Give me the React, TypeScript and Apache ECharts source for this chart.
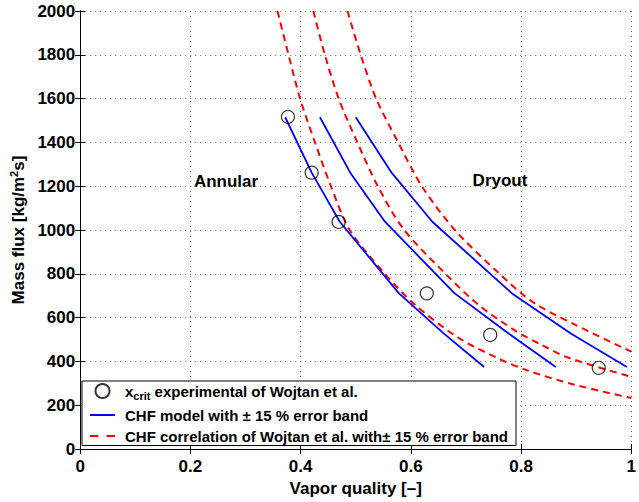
import React, { useEffect, useRef } from "react";
import * as echarts from "echarts";

// Experimental critical vapor quality (circles)
const xCrit = [0.377, 0.42, 0.469, 0.629, 0.744, 0.941];
const gCrit = [1517, 1262, 1037, 711, 521, 371];

// CHF model (blue) with +/-15 % band
const modelG = [1515, 1262, 1038, 712, 527, 375];
const modelLowX = [0.372, 0.42, 0.471, 0.578, 0.66, 0.733];
const modelMidX = [0.435, 0.49, 0.553, 0.679, 0.778, 0.863];
const modelHighX = [0.5, 0.565, 0.639, 0.783, 0.891, 0.992];

// CHF correlation of Wojtan et al. (red dashed) with +/-15 % band
const corrLowX = [0.358, 0.378, 0.399, 0.426, 0.455, 0.489, 0.553, 0.607, 0.684, 0.755, 0.814, 0.897, 1.0];
const corrLowG = [2000, 1800, 1600, 1400, 1200, 1000, 800, 660, 512, 418, 357, 294, 233];
const corrMidX = [0.423, 0.444, 0.469, 0.503, 0.54, 0.588, 0.663, 0.722, 0.79, 0.838, 0.885, 1.0];
const corrMidG = [2000, 1800, 1600, 1400, 1200, 1000, 800, 660, 540, 475, 418, 330];
const corrHighX = [0.485, 0.509, 0.537, 0.577, 0.62, 0.68, 0.761, 0.822, 0.897, 1.0];
const corrHighG = [2000, 1800, 1600, 1400, 1200, 1000, 800, 670, 569, 445];

const NAME_EXP = "xcrit experimental of Wojtan et al.";
const NAME_MODEL = "CHF model with \u00b1 15 % error band";
const NAME_CORR = "CHF correlation of Wojtan et al. with\u00b1 15 % error band";

const FONT = "'Liberation Sans', Arial, Helvetica, sans-serif";

const zip = (xs: number[], ys: number[]) => xs.map((x, i) => [x, ys[i]]);

export default function App() {
  const ref = useRef<HTMLDivElement>(null);
  useEffect(() => {
    if (!ref.current) return;
    const chart = echarts.init(ref.current, undefined, { renderer: "svg" });
    const grid = { left: 75, right: 1, top: 11, bottom: 50 };
    const axisLine = { show: true, lineStyle: { color: "#000", width: 1 } };
    const axisTick = { show: true, inside: true, length: 5, lineStyle: { color: "#000", width: 1 } };
    const splitLine = { show: true, lineStyle: { color: "#666", width: 1, type: [1, 4] } };
    const labelStyle = { color: "#000", fontSize: 17, fontWeight: "bold", fontFamily: FONT };

    const modelLine = (xs: number[]) => ({
      type: "line",
      name: NAME_MODEL,
      data: zip(xs, modelG),
      symbol: "none",
      lineStyle: { color: "#0000ff", width: 1.8 },
      itemStyle: { color: "#0000ff" },
      z: 3,
    });
    const corrLine = (xs: number[], gs: number[]) => ({
      type: "line",
      name: NAME_CORR,
      data: zip(xs, gs),
      symbol: "none",
      smooth: 0.3,
      lineStyle: { color: "#ff0000", width: 2, type: [7, 5] },
      itemStyle: { color: "#ff0000" },
      z: 2,
    });

    chart.setOption({
      animation: false,
      backgroundColor: "#fff",
      textStyle: { fontFamily: FONT },
      grid,
      xAxis: [
        {
          type: "value",
          min: 0,
          max: 1,
          interval: 0.2,
          position: "bottom",
          axisLine,
          axisTick,
          splitLine,
          axisLabel: { ...labelStyle, margin: 9, formatter: (v: number) => String(v) },
          name: "Vapor quality [\u2013]",
          nameLocation: "middle",
          nameGap: 25,
          nameTextStyle: { ...labelStyle },
        },
        {
          type: "value",
          min: 0,
          max: 1,
          interval: 0.2,
          position: "top",
          axisLine,
          axisTick,
          splitLine: { show: false },
          axisLabel: { show: false },
        },
      ],
      yAxis: [
        {
          type: "value",
          min: 0,
          max: 2000,
          interval: 200,
          position: "left",
          axisLine,
          axisTick,
          splitLine,
          axisLabel: { ...labelStyle, margin: 5, formatter: (v: number) => String(v) },
          name: "{a|Mass flux [kg/m}{sup|2}{a|s]}",
          nameLocation: "middle",
          nameGap: 52,
          nameRotate: 90,
          nameTextStyle: {
            rich: {
              a: { ...labelStyle },
              sup: { color: "#000", fontSize: 11, fontWeight: "bold", fontFamily: FONT, padding: [0, 0, 9, 0] },
            },
          },
        },
        {
          type: "value",
          min: 0,
          max: 2000,
          interval: 200,
          position: "right",
          axisLine,
          axisTick,
          splitLine: { show: false },
          axisLabel: { show: false },
        },
      ],
      legend: {
        orient: "vertical",
        left: 82,
        top: 381,
        padding: [2, 8, 2, 8],
        itemGap: 6,
        itemWidth: 25,
        itemHeight: 14,
        symbolKeepAspect: true,
        borderColor: "#000",
        borderWidth: 1,
        backgroundColor: "#fff",
        selectedMode: false,
        data: [
          { name: NAME_EXP },
          { name: NAME_MODEL, icon: "path://M0,0h25v2h-25z" },
          { name: NAME_CORR, icon: "path://M0,0h8v2h-8zM16,0h8v2h-8z" },
        ],
        formatter: (name: string) =>
          name === NAME_EXP ? "{b|x}{s|crit}{b| experimental of Wojtan et al.}" : "{b|" + name + "}",
        textStyle: {
          color: "#000",
          fontSize: 15,
          fontWeight: "bold",
          fontFamily: FONT,
          padding: [0, 0, 0, 5],
          rich: {
            b: { color: "#000", fontSize: 15, fontWeight: "bold", fontFamily: FONT, lineHeight: 15 },
            s: { color: "#000", fontSize: 11, fontWeight: "bold", fontFamily: FONT, padding: [10, 0, 0, 0] },
          },
        },
      },
      graphic: [
        {
          type: "text",
          x: 226,
          y: 181,
          style: { text: "Annular", fill: "#000", font: "bold 17px " + FONT, textAlign: "center", textVerticalAlign: "middle" },
        },
        {
          type: "text",
          x: 500,
          y: 180,
          style: { text: "Dryout", fill: "#000", font: "bold 17px " + FONT, textAlign: "center", textVerticalAlign: "middle" },
        },
      ],
      series: [
        corrLine(corrLowX, corrLowG),
        corrLine(corrMidX, corrMidG),
        corrLine(corrHighX, corrHighG),
        modelLine(modelLowX),
        modelLine(modelMidX),
        modelLine(modelHighX),
        {
          type: "scatter",
          name: NAME_EXP,
          data: zip(xCrit, gCrit),
          symbol: "circle",
          symbolSize: 13,
          itemStyle: { color: "rgba(0,0,0,0)", borderColor: "#000", borderWidth: 1.2 },
          z: 4,
        },
      ],
    });
    return () => chart.dispose();
  }, []);
  return (
    <div
      ref={ref}
      style={{ position: "fixed", left: 0, top: 0, width: 639, height: 502 }}
    />
  );
}
